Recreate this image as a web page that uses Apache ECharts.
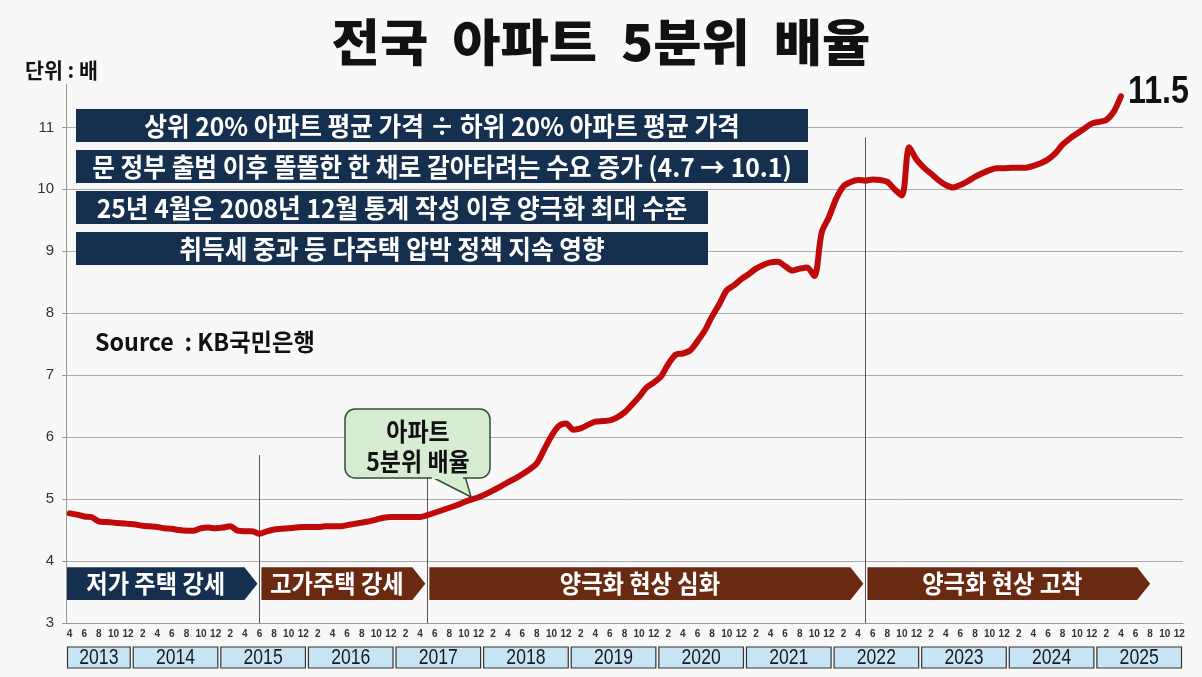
<!DOCTYPE html>
<html>
<head>
<meta charset="utf-8">
<title>전국 아파트 5분위 배율</title>
<script src="https://cdn.jsdelivr.net/npm/echarts@6/dist/echarts.min.js"></script>
<style>
  html, body { margin: 0; padding: 0; background: #f8f8f8; }
  #main { width: 1202px; height: 677px; }
</style>
</head>
<body>
<div id="main"></div>
<script>
/* 데이터 : KB국민은행 아파트 5분위 배율 (월별) */
var yearLabels = ['2013', '2014', '2015', '2016', '2017', '2018', '2019',
  '2020', '2021', '2022', '2023', '2024', '2025'];
var yTicks = [3, 4, 5, 6, 7, 8, 9, 10, 11];

var ratio2013 = [4.77, 4.75, 4.72, 4.71, 4.64, 4.63, 4.62, 4.61, 4.60];
var ratio2014 = [4.59, 4.57, 4.56, 4.55, 4.53, 4.52, 4.50, 4.49, 4.49, 4.53, 4.54, 4.53];
var ratio2015 = [4.54, 4.56, 4.49, 4.48, 4.48, 4.44, 4.48, 4.51, 4.52, 4.53, 4.54, 4.55];
var ratio2016 = [4.55, 4.55, 4.56, 4.56, 4.56, 4.58, 4.60, 4.62, 4.64, 4.67, 4.70, 4.71];
var ratio2017 = [4.71, 4.71, 4.71, 4.71, 4.74, 4.78, 4.82, 4.86, 4.90, 4.95, 4.99, 5.03];
var ratio2018 = [5.08, 5.14, 5.20, 5.27, 5.33, 5.40, 5.48, 5.58, 5.80, 6.02, 6.18, 6.22];
var ratio2019 = [6.12, 6.14, 6.20, 6.25, 6.26, 6.27, 6.32, 6.40, 6.52, 6.65, 6.80, 6.88];
var ratio2020 = [6.98, 7.18, 7.33, 7.35, 7.40, 7.55, 7.72, 7.95, 8.15, 8.37, 8.45, 8.55];
var ratio2021 = [8.63, 8.72, 8.78, 8.82, 8.83, 8.76, 8.69, 8.72, 8.74, 8.60, 9.30, 9.55];
var ratio2022 = [9.85, 10.05, 10.12, 10.15, 10.14, 10.16, 10.15, 10.12, 10.00, 9.90, 10.68, 10.48];
var ratio2023 = [10.35, 10.25, 10.15, 10.07, 10.03, 10.07, 10.13, 10.20, 10.26, 10.31, 10.34, 10.34];
var ratio2024 = [10.35, 10.35, 10.35, 10.38, 10.42, 10.48, 10.58, 10.72, 10.82, 10.90, 10.98, 11.06];
var ratio2025 = [11.09, 11.12, 11.25, 11.50];

var noteLines = [
  '상위 20% 아파트 평균 가격 ÷ 하위 20% 아파트 평균 가격',
  '문 정부 출범 이후 똘똘한 한 채로 갈아타려는 수요 증가 (4.7 → 10.1)',
  '25년 4월은 2008년 12월 통계 작성 이후 양극화 최대 수준',
  '취득세 중과 등 다주택 압박 정책 지속 영향'
];
var phaseNames = ['저가 주택 강세', '고가주택 강세', '양극화 현상 심화', '양극화 현상 고착'];
var markerMonths = ['2015-06', '2017-05', '2022-05'];
var markerTops = [5.71, 5.5, 10.84];

// 월 카테고리 2013-04 ~ 2025-12
var months = [];
for (var y = 2013; y <= 2025; y++) {
  for (var m = (y === 2013 ? 4 : 1); m <= 12; m++) {
    months.push(y + '-' + (m < 10 ? '0' : '') + m);
  }
}
var ratio = [].concat(ratio2013, ratio2014, ratio2015, ratio2016, ratio2017, ratio2018,
  ratio2019, ratio2020, ratio2021, ratio2022, ratio2023, ratio2024, ratio2025);

var KR = '"Noto Sans CJK KR", "Noto Sans", sans-serif';
var NARROW = '"Liberation Sans Narrow", "Liberation Sans", Arial, sans-serif';

var chart = echarts.init(document.getElementById('main'));

var option = {
  backgroundColor: '#f8f8f8',
  animation: false,
  grid: { left: 66, right: 19, top: 84, bottom: 54 },
  xAxis: {
    type: 'category',
    data: months,
    boundaryGap: true,
    axisLine: { lineStyle: { color: '#999', width: 1 } },
    axisTick: { interval: 0, alignWithLabel: true, length: 3, lineStyle: { color: '#999' } },
    axisLabel: {
      interval: 1,
      margin: 6,
      fontSize: 10,
      fontWeight: 'bold',
      fontFamily: NARROW,
      color: '#333',
      formatter: function (v) { return String(+v.slice(5)); }
    }
  },
  yAxis: {
    type: 'value',
    min: 3,
    max: 11.7,
    interval: 1,
    axisLine: { show: true, lineStyle: { color: '#999' } },
    axisTick: { show: true, length: 4, lineStyle: { color: '#999' } },
    splitLine: { show: false },
    axisLabel: { showMaxLabel: false, fontSize: 15, color: '#333', margin: 12, fontFamily: '"Liberation Sans", Arial' }
  },
  series: [
    {
      // 격자선 + 정권 구분선
      type: 'line',
      data: [],
      z: 1,
      silent: true,
      markLine: {
        silent: true,
        symbol: 'none',
        label: { show: false },
        lineStyle: { color: '#aaa', width: 1, type: 'solid' },
        data: yTicks.slice(1).map(function (v) { return { yAxis: v }; }).concat(
          markerMonths.map(function (mo, i) {
            return [
              { coord: [mo, 3], lineStyle: { color: '#555', width: 1, type: 'solid' } },
              { coord: [mo, markerTops[i]] }
            ];
          }))
      }
    },
    {
      name: '아파트 5분위 배율',
      type: 'line',
      data: ratio,
      z: 5,
      symbol: 'none',
      smooth: 0.3,
      lineStyle: { color: '#c00a0a', width: 6, cap: 'round', join: 'round' }
    }
  ]
};
chart.setOption(option);

/* 그래픽 요소 (축 좌표로 위치 계산) */
var px = function (cat) { return chart.convertToPixel({ xAxisIndex: 0 }, cat); };
var py = function (v) { return chart.convertToPixel({ yAxisIndex: 0 }, v); };
var band = px(months[1]) - px(months[0]);
var g = [];

// 텍스트 (sx : 가로 압축 비율)
function txt(text, x, y, size, color, align, weight, family, sx) {
  return {
    type: 'text', z: 20,
    x: x, y: y, scaleX: sx || 1,
    style: {
      text: text, x: 0, y: 0, fill: color,
      fontSize: size, fontWeight: weight || 'bold', fontFamily: family || KR,
      textAlign: align || 'center', align: align || 'center',
      textVerticalAlign: 'middle', verticalAlign: 'middle'
    }
  };
}

// 제목
g.push(txt('전국  아파트  5분위  배율', 601, 42, 50, '#111', 'center', 900, KR, 1.05));

// 연도 박스
yearLabels.forEach(function (yr) {
  var idx = months.filter(function (mo) { return mo.indexOf(yr) === 0; });
  var x1 = px(idx[0]) - band / 2 + 1.5;
  var x2 = px(idx[idx.length - 1]) + band / 2 - 1.5;
  g.push({
    type: 'rect', z: 10,
    shape: { x: x1, y: 647, width: x2 - x1, height: 21 },
    style: { fill: '#c8e5f5', stroke: '#333', lineWidth: 1.2 }
  });
  g.push(txt(yr, (x1 + x2) / 2, 658, 22, '#1a1a1a', 'center', 'normal', NARROW, 0.8));
});

// 구간 화살표
var phaseColors = ['#15304e', '#6a2a12', '#6a2a12', '#6a2a12'];
var arrowTop = py(3.9), arrowBot = py(3.37), arrowMid = (arrowTop + arrowBot) / 2;
phaseNames.forEach(function (name, i) {
  var xs = i === 0 ? px(months[0]) - band / 2 + 1 : px(markerMonths[i - 1]) + 2;
  var xt = i < 3 ? px(markerMonths[i]) - 2 : px('2025-08');
  var xb = xt - 13;
  g.push({
    type: 'polygon', z: 10,
    shape: { points: [[xs, arrowTop], [xb, arrowTop], [xt, arrowMid], [xb, arrowBot], [xs, arrowBot]] },
    style: { fill: phaseColors[i] }
  });
  g.push(txt(name, (xs + xb) / 2, arrowMid, 25, '#fff', 'center', 'bold', KR, 0.93));
});

// 상단 설명 박스
var boxW = [732, 732, 632, 632];
noteLines.forEach(function (line, i) {
  var by = 109 + i * 41;
  g.push({
    type: 'rect', z: 10,
    shape: { x: 76, y: by, width: boxW[i], height: 33 },
    style: { fill: '#14304e' }
  });
  g.push(txt(line, 76 + boxW[i] / 2, by + 17, 26, '#fff', 'center', 'bold', KR, 0.95));
});

// 말풍선
g.push({
  type: 'polygon', z: 12,
  shape: { points: [[430, 476], [471, 497], [465, 476]] },
  style: { fill: '#d6edd2', stroke: '#2f4f35', lineWidth: 1.5 }
});
g.push({
  type: 'rect', z: 13,
  shape: { x: 345, y: 409, width: 145, height: 69, r: 10 },
  style: { fill: '#d6edd2', stroke: '#2f4f35', lineWidth: 1.5 }
});
g.push({
  type: 'rect', z: 14,
  shape: { x: 432, y: 475, width: 31, height: 4 },
  style: { fill: '#d6edd2' }
});
g.push(txt('아파트', 418, 431, 25, '#111', 'center', 'bold', KR, 0.92));
g.push(txt('5분위 배율', 418, 461, 25, '#111', 'center', 'bold', KR, 0.92));

// 기타 텍스트
var lastIdx = ratio.length - 1;
g.push(txt(ratio[lastIdx].toFixed(1), px(months[lastIdx]) + 7, py(ratio[lastIdx]) - 4, 38, '#111', 'left', 'bold', NARROW, 0.85));
g.push(txt('단위 : 배', 25, 70, 21, '#111', 'left', 'bold', KR, 0.98));
g.push(txt('Source  : KB국민은행', 95, 342, 24, '#111', 'left', 'bold', KR, 0.97));

chart.setOption({ graphic: g });
</script>
</body>
</html>
